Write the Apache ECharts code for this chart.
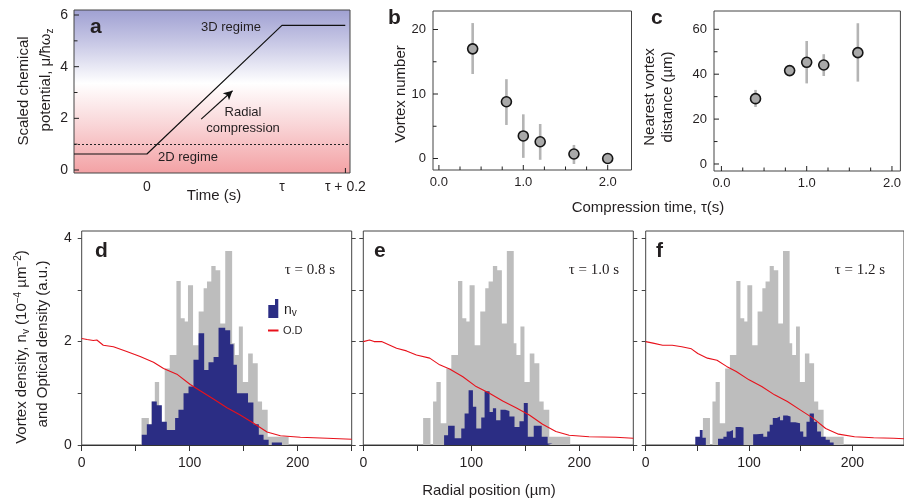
<!DOCTYPE html>
<html><head><meta charset="utf-8">
<script src="https://cdn.jsdelivr.net/npm/echarts@6/dist/echarts.min.js"></script>
<style>html,body{margin:0;padding:0;background:#fff;overflow:hidden}#chart{width:904px;height:502px}</style>
</head><body><div id="chart"></div>
<script>
// ---------- Panel a: chemical potential ramp ----------
const aTime = [-0.54, 0, 1, 1.469];          // in units where 0 -> 0 s, 1 -> tau
const aMu = [0.62, 0.62, 5.6, 5.6];
const aCrossover = 1.0;
const aTickValues = [0, 1, 1.47];
const aTickLabels = ['0', 'τ', 'τ + 0.2'];
const aXTicks = [1.47];
const aYTicks = [0, 1, 2, 3, 4, 5, 6];
const aYLabels = [0, 2, 4, 6];

// ---------- Panel b: vortex number ----------
const compTime = [0.4, 0.8, 1.0, 1.2, 1.6, 2.0];
const vortexNum = [17.0, 8.8, 3.5, 2.6, 0.7, 0.0];
const vortexLo = [13.1, 5.2, 0.1, -0.2, -0.85, 0.0];
const vortexHi = [21.0, 12.3, 6.85, 5.35, 2.1, 0.0];
const timeTicks = [0, 0.25, 0.5, 0.75, 1, 1.25, 1.5, 1.75, 2];
const timeLabels = [0, 1, 2];
const bYTicks = [0, 5, 10, 15, 20];
const bYLabels = [0, 10, 20];

// ---------- Panel c: nearest vortex distance ----------
const distTime = [0.4, 0.8, 1.0, 1.2, 1.6];
const nearestDist = [29.1, 41.6, 45.3, 44.1, 49.6];
const nearestLo = [25.4, 39.5, 35.9, 39.2, 36.7];
const nearestHi = [33.0, 43.8, 54.8, 48.9, 62.7];
const cYTicks = [0, 10, 20, 30, 40, 50, 60];
const cYLabels = [0, 20, 40, 60];

// ---------- Panels d-f: histograms (bin edges in µm, heights) ----------
const grayEdges = [55.4, 62.2, 64.6, 67.7, 71.7, 76.9, 81.5, 87.7, 91.7, 95.4, 98.4, 103.1, 108.3, 112.9, 116.0, 120.0, 124.0, 128.3, 132.9, 139.3, 141.8, 145.5, 149.2, 154.1, 158.4, 163.0, 167.0, 172.2, 191.6];
const grayHeights = [0.52, 0, 0.84, 1.22, 0.42, 1.48, 1.74, 3.17, 2.45, 2.39, 3.09, 1.93, 2.58, 3.03, 3.16, 3.46, 3.38, 2.35, 3.75, 1.97, 1.74, 2.29, 1.22, 1.77, 1.58, 0.84, 0.68, 0.16];

const blueEdgesD = [55.6, 60.3, 64.9, 69.5, 74.2, 78.8, 86.5, 89.6, 94.3, 98.9, 103.5, 108.2, 113.4, 117.4, 122.1, 126.7, 132.9, 137.5, 140.6, 143.7, 154.0, 159.0, 164.0, 168.4, 173.1, 176.0, 185.4];
const blueHeightsD = [0.2, 0.40, 0.84, 0.77, 0.45, 0.29, 0.52, 0.68, 1.0, 1.13, 1.65, 2.16, 1.45, 1.60, 1.70, 2.27, 2.22, 1.95, 1.55, 1.0, 0.82, 0.40, 0.2, 0.1, 0, 0.05];

const blueEdgesE = [74.8, 78.5, 84.6, 90.7, 93.8, 97.5, 101.5, 104.6, 109.2, 112.3, 116.9, 120.0, 123.0, 127.0, 131.4, 135.3, 140.0, 144.6, 148.6, 152.3, 157.8, 165.2, 170.7, 175.3];
const blueHeightsE = [0.19, 0.37, 0.13, 0.32, 0.61, 1.06, 0.74, 0.32, 0.53, 1.04, 0.64, 0.71, 0.48, 0.68, 0.66, 0.55, 0.35, 0.46, 0.81, 0.16, 0.37, 0.16, 0.03];

const blueEdgesF = [48.0, 52.4, 55.1, 58.2, 70.0, 75.2, 78.3, 81.4, 84.5, 87.0, 91.6, 94.7, 104.0, 107.0, 113.8, 117.6, 120.0, 123.0, 126.9, 130.0, 133.0, 137.0, 140.2, 144.8, 149.4, 152.5, 155.6, 158.7, 162.8, 165.9, 169.6, 174.2, 178.2, 181.9];
const blueHeightsF = [0.16, 0.29, 0.14, 0, 0.12, 0.16, 0.26, 0.29, 0.14, 0.35, 0.34, 0, 0.21, 0.22, 0.16, 0.26, 0.39, 0.52, 0.55, 0.48, 0.57, 0.55, 0.44, 0.42, 0.26, 0.16, 0.45, 0.61, 0.45, 0.26, 0.16, 0.10, 0.05];

// Optical density profiles [radius µm, OD]
const odD = [[0,2.06],[5,2.04],[10.8,2.02],[14,2.03],[20,1.93],[29.4,1.90],[41.7,1.81],[54.1,1.71],[66.5,1.60],[75.8,1.48],[88.1,1.37],[100.5,1.17],[109.7,1.05],[122,0.89],[134.5,0.72],[146.8,0.58],[159.2,0.42],[171.6,0.25],[184,0.18],[202.5,0.15],[227.3,0.13],[250,0.11]];
const odE = [[0,2.0],[5.8,2.03],[10,2.0],[16.9,2.0],[24.6,1.93],[30.8,1.87],[40,1.82],[49.2,1.74],[61.5,1.68],[70.7,1.55],[79.9,1.47],[92.2,1.32],[104.5,1.13],[116.8,1.0],[129.1,0.85],[141.4,0.72],[153.7,0.58],[166,0.40],[178.3,0.26],[190.6,0.19],[209,0.16],[233.6,0.15],[250,0.13]];
const odF = [[0,2.0],[7.1,1.97],[16.4,1.93],[25.7,1.93],[34.9,1.90],[44.2,1.86],[50.4,1.77],[59.7,1.68],[69,1.64],[78.3,1.52],[87.6,1.42],[100,1.26],[112.3,1.13],[124.7,0.97],[137.1,0.84],[149.5,0.68],[161.9,0.52],[174.2,0.32],[186.6,0.21],[202.1,0.16],[220.6,0.14],[240,0.13],[250,0.12]];

const radialTicks = [0, 50, 100, 150, 200, 250];
const radialLabels = [0, 100, 200];
const densityTicks = [0, 1, 2, 3, 4];
const densityLabels = [0, 2, 4];

// ---------- helpers ----------
const SANS = '"Liberation Sans", Arial, Helvetica, sans-serif';
const SERIF = '"Liberation Serif", "Times New Roman", serif';
const INK = '#231f20';
const GRAY = '#bdbdbd', NAVY = '#2b2d84', RED = '#e8111b';

function stepPoints(edges, heights) {
  const pts = [[edges[0], 0]];
  heights.forEach((h, i) => pts.push([edges[i], h]));
  pts.push([edges[edges.length - 1], heights[heights.length - 1]]);
  pts.push([edges[edges.length - 1], 0]);
  return pts;
}
function histSeries(xi, yi, edges, heights, color, z) {
  return { type: 'line', xAxisIndex: xi, yAxisIndex: yi, step: 'end', symbol: 'none', silent: true,
    data: stepPoints(edges, heights), lineStyle: { width: 0 }, areaStyle: { color, opacity: 1 }, z };
}
function odSeries(xi, yi, data) {
  return { type: 'line', xAxisIndex: xi, yAxisIndex: yi, symbol: 'none', silent: true, data,
    lineStyle: { color: RED, width: 1.1 }, z: 5 };
}
function errSeries(idx, xs, lo, hi) {
  return { type: 'custom', xAxisIndex: idx, yAxisIndex: idx, z: 3, silent: true,
    data: xs.map((x, i) => [x, lo[i], hi[i]]),
    encode: { x: 0, y: [1, 2] },
    renderItem: (p, api) => {
      const a = api.coord([api.value(0), api.value(1)]);
      const b = api.coord([api.value(0), api.value(2)]);
      return { type: 'line', shape: { x1: a[0], y1: a[1], x2: b[0], y2: b[1] }, style: { stroke: '#b4b4b4', lineWidth: 2.6 } };
    } };
}
function ptSeries(idx, xs, ys) {
  return { type: 'scatter', xAxisIndex: idx, yAxisIndex: idx, z: 4, silent: true,
    data: xs.map((x, i) => [x, ys[i]]), symbol: 'circle', symbolSize: 10,
    itemStyle: { color: '#a9a9a9', borderColor: '#151515', borderWidth: 1.6, opacity: 1 } };
}
// inward ticks drawn through the axis scales (x ticks at the bottom edge, y ticks at the left edge)
function tickSeries(idx, xTicks, xMajor, yTicks, yMajor, anyX, anyY) {
  const data = xTicks.map(v => [v, anyY, 0]).concat(yTicks.map(v => [anyX, v, 1]));
  return { type: 'custom', xAxisIndex: idx, yAxisIndex: idx, z: 6, silent: true, clip: false,
    data, encode: { x: 0, y: 1 },
    renderItem: (p, api) => {
      const cs = p.coordSys;
      const pt = api.coord([api.value(0), api.value(1)]);
      const isY = api.value(2) === 1;
      const v = isY ? api.value(1) : api.value(0);
      const major = (isY ? yMajor : xMajor).indexOf(v) >= 0;
      const len = major ? 5 : 3.5;
      const shape = isY
        ? { x1: cs.x, y1: pt[1], x2: cs.x + len, y2: pt[1] }
        : { x1: pt[0], y1: cs.y + cs.height, x2: pt[0], y2: cs.y + cs.height - len };
      return { type: 'line', shape, style: { stroke: '#222', lineWidth: 1 } };
    } };
}
const lbl = (extra) => Object.assign({ color: INK, fontFamily: SANS, fontSize: 13 }, extra);
function ax(o) {
  const base = { type: 'value', splitLine: { show: false }, axisLine: { show: false, onZero: false } };
  const r = Object.assign(base, o);
  r.axisLine = Object.assign({ onZero: false }, r.axisLine);
  return r;
}
function t(x, y, text, o) {
  o = o || {};
  return { type: 'text', x, y, rotation: o.rot || 0, z: 100, silent: true,
    style: Object.assign({ text, fill: INK, fontFamily: SANS, fontSize: 15, align: o.align || 'center', verticalAlign: 'middle' }, o.style || {}) };
}
const sub = { fontSize: 10, fontFamily: SANS, fill: INK, verticalAlign: 'bottom', lineHeight: 10, color: INK };
const sup = { fontSize: 10, fontFamily: SANS, fill: INK, verticalAlign: 'top', lineHeight: 10, color: INK };

const gridBox = { show: true, borderColor: '#444', borderWidth: 1, backgroundColor: 'transparent', containLabel: false };
const noTick = { show: false };

const option = {
  animation: false,
  backgroundColor: '#ffffff',
  grid: [
    Object.assign({}, gridBox, { left: 74, top: 10, width: 276, height: 163,
      backgroundColor: { type: 'linear', x: 0, y: 0, x2: 0, y2: 1, colorStops: [
        { offset: 0, color: '#9fa0d2' }, { offset: 0.2, color: '#c7c7e5' }, { offset: 0.45, color: '#ffffff' },
        { offset: 0.7, color: '#f9d6d8' }, { offset: 1, color: '#f3a1a4' }] } }),
    Object.assign({}, gridBox, { left: 433, top: 11, width: 198.5, height: 159 }),
    Object.assign({}, gridBox, { left: 714, top: 11, width: 193, height: 160 }),
    Object.assign({}, gridBox, { left: 81.7, top: 231, width: 270, height: 214 }),
    Object.assign({}, gridBox, { left: 363.3, top: 231, width: 270, height: 214 }),
    Object.assign({}, gridBox, { left: 645.7, top: 231, width: 270, height: 214 })
  ],
  xAxis: [
    ax({ gridIndex: 0, min: -0.54, max: 1.504, axisTick: noTick,
      axisLabel: lbl({ fontSize: 14, margin: 7, customValues: aTickValues, formatter: v => aTickLabels[aTickValues.indexOf(v)] }) }),
    ax({ gridIndex: 1, min: -0.07, max: 2.282, axisTick: noTick,
      axisLabel: lbl({ margin: 6, customValues: timeLabels, formatter: v => v.toFixed(1) }) }),
    ax({ gridIndex: 2, min: -0.087, max: 2.099, axisTick: noTick,
      axisLabel: lbl({ margin: 6, customValues: timeLabels, formatter: v => v.toFixed(1) }) }),
    ...[3, 4, 5].map(g => ax({ gridIndex: g, min: 0, max: 250,
      axisLine: { show: true, onZero: false, lineStyle: { color: '#333', width: 1.2 } },
      axisTick: { inside: false, length: 6, lineStyle: { color: '#333' }, customValues: radialTicks },
      axisLabel: lbl({ fontSize: 14, margin: 11, customValues: radialLabels }) }))
  ],
  yAxis: [
    ax({ gridIndex: 0, min: -0.116, max: 6.194, axisTick: noTick,
      axisLabel: lbl({ fontSize: 14, margin: 6, customValues: aYLabels }) }),
    ax({ gridIndex: 1, min: -1.783, max: 22.87, axisTick: noTick,
      axisLabel: lbl({ margin: 7, customValues: bYLabels }) }),
    ax({ gridIndex: 2, min: -3.118, max: 68.15, axisTick: noTick,
      axisLabel: lbl({ margin: 7, customValues: cYLabels }) }),
    ...[3, 4, 5].flatMap(g => [
      ax({ gridIndex: g, min: 0, max: 4.139, position: 'left',
        axisTick: { inside: false, length: 4, lineStyle: { color: '#444' }, customValues: densityTicks },
        axisLabel: lbl({ fontSize: 14, margin: 10, show: g === 3, customValues: densityLabels }) }),
      ax({ gridIndex: g, min: 0, max: 4.139, position: 'right',
        axisTick: { inside: false, length: 4, lineStyle: { color: '#444' }, customValues: densityTicks },
        axisLabel: { show: false } })
    ])
  ],
  series: [
    { type: 'line', xAxisIndex: 0, yAxisIndex: 0, symbol: 'none', silent: true, z: 4,
      data: aTime.map((x, i) => [x, aMu[i]]), lineStyle: { color: '#111', width: 1.2 },
      markLine: { silent: true, symbol: ['none', 'none'], label: { show: false }, animation: false,
        data: [
          { yAxis: aCrossover, lineStyle: { color: '#222', type: [2, 2], width: 1 } },
          [ { coord: [0.402, 1.97], symbol: 'none', lineStyle: { color: '#111', type: 'solid', width: 1.2 } },
            { coord: [0.634, 3.07], symbol: 'arrow', symbolSize: [7, 9] } ]
        ] } },
    tickSeries(0, aXTicks, aXTicks, aYTicks, aYLabels, 0, 0),
    tickSeries(1, timeTicks, timeLabels, bYTicks, bYLabels, 0, 0),
    tickSeries(2, timeTicks, timeLabels, cYTicks, cYLabels, 0, 0),
    errSeries(1, compTime, vortexLo, vortexHi),
    ptSeries(1, compTime, vortexNum),
    errSeries(2, distTime, nearestLo, nearestHi),
    ptSeries(2, distTime, nearestDist),
    histSeries(3, 3, grayEdges, grayHeights, GRAY, 2),
    histSeries(3, 3, blueEdgesD, blueHeightsD, NAVY, 3),
    odSeries(3, 3, odD),
    histSeries(4, 5, grayEdges, grayHeights, GRAY, 2),
    histSeries(4, 5, blueEdgesE, blueHeightsE, NAVY, 3),
    odSeries(4, 5, odE),
    histSeries(5, 7, grayEdges, grayHeights, GRAY, 2),
    histSeries(5, 7, blueEdgesF, blueHeightsF, NAVY, 3),
    odSeries(5, 7, odF)
  ],
  graphic: [
    // panel letters
    t(90, 27, 'a', { align: 'left', style: { fontSize: 21, fontWeight: 'bold' } }),
    t(388, 18, 'b', { align: 'left', style: { fontSize: 21, fontWeight: 'bold' } }),
    t(651, 18, 'c', { align: 'left', style: { fontSize: 21, fontWeight: 'bold' } }),
    t(95, 251, 'd', { align: 'left', style: { fontSize: 21, fontWeight: 'bold' } }),
    t(374, 251, 'e', { align: 'left', style: { fontSize: 21, fontWeight: 'bold' } }),
    t(656, 251, 'f', { align: 'left', style: { fontSize: 21, fontWeight: 'bold' } }),
    // panel a annotations
    t(231, 27, '3D regime', { style: { fontSize: 13 } }),
    t(243, 112, 'Radial', { style: { fontSize: 13 } }),
    t(243, 128, 'compression', { style: { fontSize: 13 } }),
    t(188, 157, '2D regime', { style: { fontSize: 13 } }),
    // axis titles
    t(214, 196, 'Time (s)'),
    t(648, 208, 'Compression time, τ(s)'),
    t(489, 491, 'Radial position (µm)'),
    t(24, 91, 'Scaled chemical', { rot: Math.PI / 2 }),
    t(46, 80, '{m|potential, μ/ħω}{s|z}', { rot: Math.PI / 2, style: { rich: { m: { fontSize: 15, fontFamily: SANS, lineHeight: 18 }, s: sub } } }),
    t(401, 94, 'Vortex number', { rot: Math.PI / 2 }),
    t(650, 97, 'Nearest vortex', { rot: Math.PI / 2 }),
    t(668, 97, 'distance (µm)', { rot: Math.PI / 2 }),
    t(22, 347, '{m|Vortex density, n}{s|v}{m| (10}{p|−4}{m| µm}{p|−2}{m|)}', { rot: Math.PI / 2, style: { rich: { m: { fontSize: 15, fontFamily: SANS, lineHeight: 18 }, s: sub, p: sup } } }),
    t(43, 344, 'and Optical density (a.u.)', { rot: Math.PI / 2 }),
    // tau labels
    t(310, 270, 'τ = 0.8 s', { style: { fontFamily: SERIF, fontSize: 15 } }),
    t(594, 270, 'τ = 1.0 s', { style: { fontFamily: SERIF, fontSize: 15 } }),
    t(860, 270, 'τ = 1.2 s', { style: { fontFamily: SERIF, fontSize: 15 } }),
    // legend in d
    { type: 'polygon', z: 100, silent: true, shape: { points: [[268.3, 318], [268.3, 305], [275, 305], [275, 299], [278.3, 299], [278.3, 318]] }, style: { fill: NAVY } },
    t(284, 310, '{m|n}{s|v}', { align: 'left', style: { rich: { m: { fontSize: 14, fontFamily: SANS, lineHeight: 16 }, s: sub } } }),
    { type: 'line', z: 100, silent: true, shape: { x1: 268, y1: 330.5, x2: 278.5, y2: 330.5 }, style: { stroke: RED, lineWidth: 2 } },
    t(283, 331, 'O.D', { align: 'left', style: { fontSize: 11 } })
  ]
};

const chart = echarts.init(document.getElementById('chart'), null, { renderer: 'canvas' });
chart.setOption(option);
</script></body></html>
